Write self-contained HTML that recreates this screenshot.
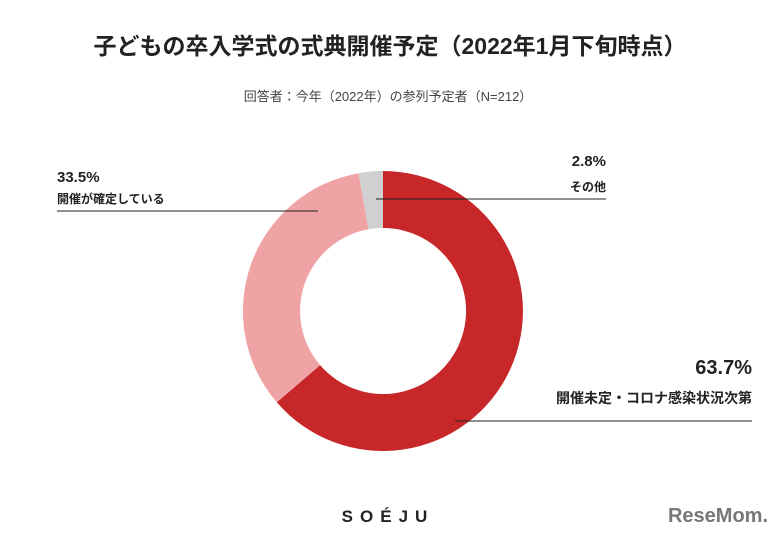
<!DOCTYPE html>
<html><head><meta charset="utf-8"><style>
body{margin:0;background:#fff;}
svg text{font-family:"Liberation Sans","Noto Sans CJK JP",sans-serif;}
</style></head><body>
<svg width="776" height="541" viewBox="0 0 776 541" xmlns="http://www.w3.org/2000/svg">
<rect width="776" height="541" fill="#fff"/>
<text x="390" y="54" text-anchor="middle" font-size="23" font-weight="bold" fill="#222">子どもの卒入学式の式典開催予定（2022年1月下旬時点）</text>
<text x="388" y="101" text-anchor="middle" font-size="13" fill="#444">回答者：今年（2022年）の参列予定者（N=212）</text>
<path d="M383 171 A140 140 0 1 1 276.8 402.3 L320.1 365.1 A83 83 0 1 0 383 228 Z" fill="#c8272a"/>
<path d="M276.8 402.3 A140 140 0 0 1 358.5 173.2 L368.5 229.3 A83 83 0 0 0 320.1 365.1 Z" fill="#f0a3a4"/>
<path d="M358.5 173.2 A140 140 0 0 1 383 171 L383 228 A83 83 0 0 0 368.5 229.3 Z" fill="#d0d0d0"/>
<line x1="57" y1="211" x2="318" y2="211" stroke="#222" stroke-width="1"/>
<line x1="376" y1="199" x2="606" y2="199" stroke="#222" stroke-width="1"/>
<line x1="455" y1="421" x2="752" y2="421" stroke="#222" stroke-width="1"/>
<text x="57" y="182" font-size="15" font-weight="bold" fill="#222">33.5%</text>
<text x="57" y="203" font-size="12" font-weight="bold" fill="#222">開催が確定している</text>
<text x="606" y="166" text-anchor="end" font-size="15" font-weight="bold" fill="#222">2.8%</text>
<text x="606" y="191" text-anchor="end" font-size="12" font-weight="bold" fill="#222">その他</text>
<text x="752" y="374" text-anchor="end" font-size="20" font-weight="bold" fill="#222">63.7%</text>
<text x="752" y="403" text-anchor="end" font-size="14" font-weight="bold" fill="#222">開催未定・コロナ感染状況次第</text>
<text x="388" y="522" text-anchor="middle" font-size="17" font-weight="bold" letter-spacing="7" fill="#222">SOÉJU</text>
<text x="718" y="522" text-anchor="middle" font-size="20" font-weight="bold" fill="#777">ReseMom.</text>
</svg>
</body></html>
